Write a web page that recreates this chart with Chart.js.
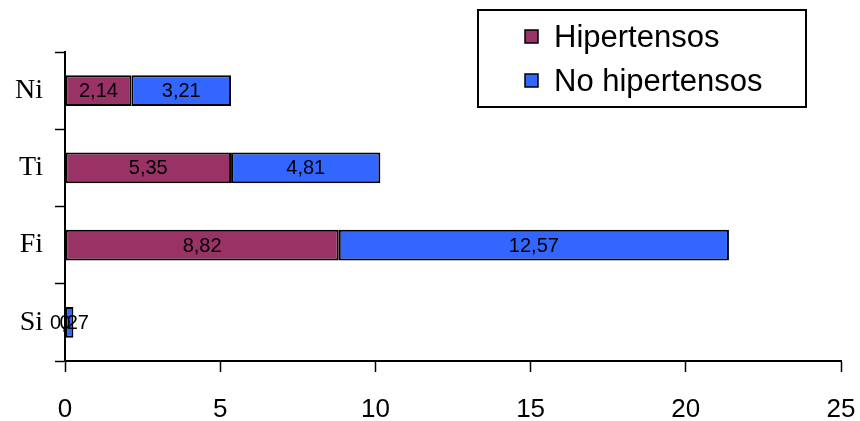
<!DOCTYPE html>
<html lang="es">
<head>
<meta charset="utf-8">
<title>Hipertensos / No hipertensos</title>
<script src="https://cdn.jsdelivr.net/npm/chart.js@4.4.1/dist/chart.umd.min.js"></script>
<style>
  html, body { margin: 0; padding: 0; background: #fff; }
  #caja { position: relative; width: 860px; height: 421px; }
</style>
</head>
<body>
<div id="caja"><canvas id="grafico" width="860" height="421"></canvas></div>
<script>
// ── DATOS ──
const categorias = ['Ni', 'Ti', 'Fi', 'Si']
const hipertensos = [2.14, 5.35, 8.82, 0]
const noHipertensos = [3.21, 4.81, 12.57, 0.27]
const series = ['Hipertensos', 'No hipertensos']
const colores = ['#993366', '#3366FF']

const ARIAL = '"Liberation Sans", Arial, sans-serif'
const TIMES = '"Liberation Serif", "Times New Roman", serif'

function numeroComa(v) {
  return String(v).replace('.', ',')
}

// Etiquetas de valor dentro de cada tramo
const etiquetasPlugin = {
  id: 'etiquetas',
  afterDatasetsDraw(chart) {
    const ctx = chart.ctx
    ctx.save()
    ctx.font = '20px ' + ARIAL
    ctx.fillStyle = '#000'
    ctx.textAlign = 'center'
    ctx.textBaseline = 'middle'
    chart.data.datasets.forEach((ds, i) => {
      chart.getDatasetMeta(i).data.forEach((bar, j) => {
        const cx = (bar.x + bar.base) / 2
        ctx.fillText(numeroComa(ds.data[j]), cx, bar.y + 1)
      })
    })
    ctx.restore()
  }
}

// Leyenda con marco, arriba a la derecha
const leyendaPlugin = {
  id: 'leyendaCaja',
  afterDraw(chart) {
    const ctx = chart.ctx
    ctx.save()
    ctx.strokeStyle = '#000'
    ctx.lineWidth = 2
    ctx.fillStyle = '#fff'
    ctx.fillRect(478, 10, 328, 97)
    ctx.strokeRect(478, 10, 328, 97)
    ctx.font = '31px ' + ARIAL
    ctx.textBaseline = 'middle'
    const filas = [37, 81]
    series.forEach((nombre, i) => {
      const y = filas[i]
      ctx.fillStyle = colores[i]
      ctx.fillRect(525, y - 7, 13, 13)
      ctx.lineWidth = 1.5
      ctx.strokeRect(525, y - 7, 13, 13)
      ctx.fillStyle = '#000'
      ctx.fillText(nombre, 554, y + 1)
    })
    ctx.restore()
  }
}

new Chart(document.getElementById('grafico'), {
  type: 'bar',
  data: {
    labels: categorias,
    datasets: [
      { label: series[0], data: hipertensos, backgroundColor: colores[0] },
      { label: series[1], data: noHipertensos, backgroundColor: colores[1] }
    ].map(ds => Object.assign(ds, {
      borderColor: '#000',
      borderWidth: 2,
      borderSkipped: false,
      categoryPercentage: 1,
      barPercentage: 0.4
    }))
  },
  options: {
    indexAxis: 'y',
    responsive: false,
    animation: false,
    layout: { padding: { left: 0, top: 52, right: 19, bottom: 0 } },
    plugins: {
      legend: { display: false },
      tooltip: { enabled: false }
    },
    scales: {
      x: {
        stacked: true,
        min: 0,
        max: 25,
        ticks: { stepSize: 5, color: '#000', font: { family: ARIAL, size: 26 }, padding: 22 },
        grid: { drawOnChartArea: false, tickLength: 11, tickColor: '#000', tickWidth: 1.5 },
        border: { color: '#000', width: 2 },
        afterFit(s) {
          s.height = 60
          s.paddingLeft = 0
          s.paddingRight = 0
        }
      },
      y: {
        stacked: true,
        ticks: { color: '#000', font: { family: TIMES, size: 28 }, padding: 12 },
        grid: { drawOnChartArea: false, offset: true, tickLength: 10, tickColor: '#000', tickWidth: 1.5 },
        border: { color: '#000', width: 2 },
        afterFit(s) {
          s.width = 65
          s.paddingTop = 0
          s.paddingBottom = 0
        }
      }
    }
  },
  plugins: [etiquetasPlugin, leyendaPlugin]
})
</script>
</body>
</html>
